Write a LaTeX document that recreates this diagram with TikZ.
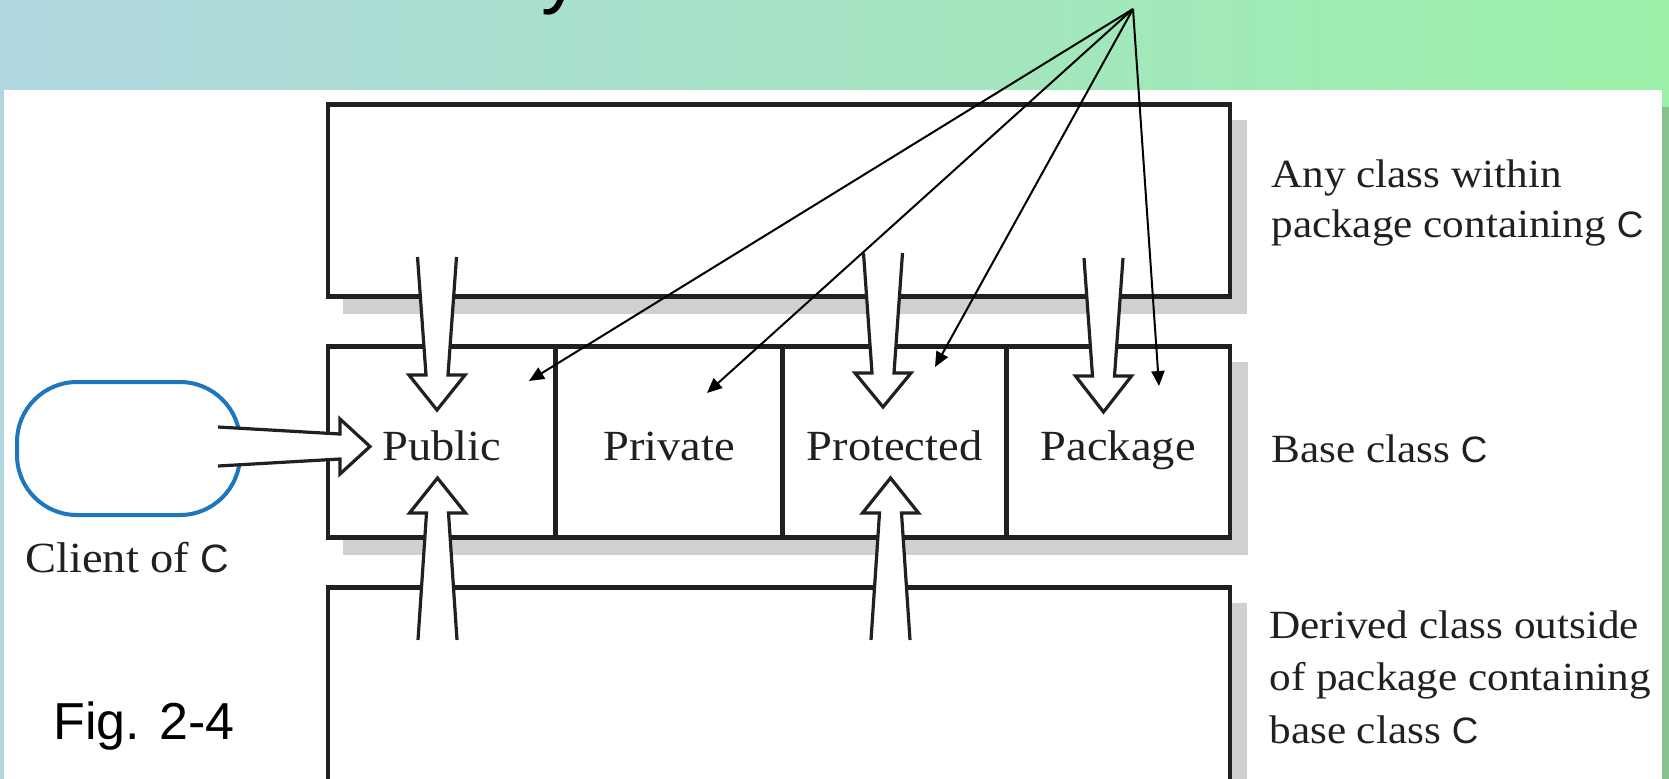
\documentclass[tikz,border=0pt]{standalone}
\usepackage{fontspec}
\setmainfont{Liberation Serif}[FakeStretch=1.08]
\newfontfamily\sansC{Liberation Sans}[Scale=0.92]
\newfontfamily\figfont{Liberation Sans}
\usetikzlibrary{arrows.meta}
\definecolor{bgA}{RGB}{176,214,224}
\definecolor{bgB}{RGB}{155,240,168}
\definecolor{edge}{RGB}{35,31,32}
\definecolor{shadowgray}{RGB}{208,208,210}
\definecolor{ovalblue}{RGB}{30,118,190}
\definecolor{stripgreen}{RGB}{136,192,142}
% hollow block arrow, vertical: centre x, open-end y, head-base y, tip y
\newcommand{\vblk}[4]{%
  \path[blkline] (#1-19.5,#2) -- (#1-11,#3) -- (#1-28,#3) -- (#1,#4) -- (#1+28,#3) -- (#1+11,#3) -- (#1+19.5,#2);}
% hollow block arrow, horizontal: centre y, open-end x, head-base x, tip x
\newcommand{\hblk}[4]{%
  \path[blkline] (#2,#1-19.5) -- (#3,#1-12.5) -- (#3,#1-27.5) -- (#4,#1) -- (#3,#1+27.5) -- (#3,#1+12.5) -- (#2,#1+19.5);}
\begin{document}
\begin{tikzpicture}[x=0.5pt,y=-0.5pt,
  boxnode/.style={draw=edge,line width=2.4pt,fill=white,rectangle,inner sep=0pt},
  cell/.style={boxnode,minimum height=95.5pt,text height=20pt,text depth=2pt,
    font=\fontsize{21.5}{26}\selectfont,text=edge},
  blkline/.style={draw=edge,fill=white,line width=1.6pt,line join=miter},
  pointer/.style={draw=black,line width=1pt,-{Triangle[length=7.5pt,width=6.5pt]}},
  sidetext/.style={font=\fontsize{20}{24}\selectfont,text=edge,inner sep=0pt,anchor=base west},
  figtext/.style={font=\figfont\fontsize{26}{30}\selectfont,text=black,inner sep=0pt,anchor=base west},
  shadowbox/.style={fill=shadowgray},
]
\useasboundingbox (0,0) rectangle (1669,778);
\clip (0,0) rectangle (1669,778);
% background
\shade[left color=bgA,right color=bgB] (0,0) rectangle (1669,778);
\node[font=\figfont\fontsize{40}{48}\selectfont,anchor=base west,inner sep=0pt] (titley) at (541,-2) {y};
\fill[stripgreen] (1662,107) rectangle (1669,800);
\fill[white] (4,90) rectangle (1662,800);
% shadows
\fill[shadowbox] (343,120) rectangle (1247,314);
\fill[shadowbox] (343,362) rectangle (1248,555);
\fill[shadowbox] (343,603) rectangle (1247,800);
% boxes
\node[boxnode,minimum width=451pt,minimum height=96pt] (anybox) at (779,200.5) {};
\node[cell,minimum width=113.75pt] (pub) at (441.75,442) {Public};
\node[cell,minimum width=113.5pt] (priv) at (669,442) {Private};
\node[cell,minimum width=112pt] (prot) at (894.5,442) {Protected};
\node[cell,minimum width=111.75pt] (pack) at (1118.25,442) {Package};
\node[boxnode,minimum width=451pt,minimum height=116.25pt] (derbox) at (779,703.75) {};
% client
\node[draw=ovalblue,line width=2pt,rounded corners=30pt,minimum width=111.5pt,minimum height=66.5pt,inner sep=0pt] (client) at (128.5,448.5) {};
% block arrows
\hblk{446.5}{218}{340}{370}
\vblk{437}{257}{375}{410}
\vblk{883}{253}{373}{407}
\vblk{1103.5}{258}{376}{412}
\vblk{437.5}{640}{513}{478}
\vblk{890.5}{640}{513}{478}
% labels
\node[sidetext] (any1) at (1271,187) {Any class within};
\node[sidetext] (any2) at (1271,237) {package containing {\sansC C}};
\node[sidetext] (basel) at (1271,462) {Base class {\sansC C}};
\node[sidetext] (der1) at (1269,638) {Derived class outside};
\node[sidetext] (der2) at (1269,690.5) {of package containing};
\node[sidetext] (der3) at (1269,743) {base class {\sansC C}};
\node[sidetext,font=\fontsize{21.5}{26}\selectfont] (clientlbl) at (25,572) {Client of {\sansC C}};
\node[figtext] (fig) at (53,739) {Fig. 2-4};
% pointer arrows
\coordinate (apex) at (1133,9);
\coordinate (tpub) at (529,381);
\coordinate (tpriv) at (707,393);
\coordinate (tprot) at (935,367);
\coordinate (tpack) at (1159,386);
\draw[pointer] (apex) -- (tpub);
\draw[pointer] (apex) -- (tpriv);
\draw[pointer] (apex) -- (tprot);
\draw[pointer] (apex) -- (tpack);
\end{tikzpicture}
\end{document}
